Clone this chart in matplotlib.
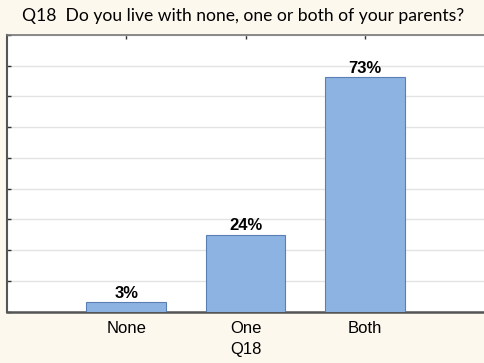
import matplotlib
matplotlib.use("Agg")
import matplotlib.pyplot as plt
from matplotlib.ticker import MultipleLocator

categories = ["None", "One", "Both"]
percentages = [3, 24, 73]
labels = ["3%", "24%", "73%"]
title = "Q18  Do you live with none, one or both of your parents?"
xlabel = "Q18"

bg = "#FDF8EE"
fig = plt.figure(figsize=(4.84, 3.63), dpi=100, facecolor=bg)
ax = fig.add_axes([7/484, 1-311.7/363, 1-7/484, (311.7-35)/363])
ax.set_facecolor("white")

x = list(range(len(categories)))
bars = ax.bar(x, percentages, width=0.67, color="#8DB3E2", edgecolor="#5A7FB5", linewidth=0.8, zorder=3)
for xi, v, lab in zip(x, percentages, labels):
    ax.annotate(lab, (xi, v), xytext=(0, 1.0), textcoords="offset points", ha="center", va="bottom",
                fontsize=12, fontweight="bold", family="Liberation Sans", zorder=4)

ax.set_xlim(-1, 3)
ymax = 86.1
ax.set_ylim(0, ymax)
ax.yaxis.set_major_locator(MultipleLocator(ymax/9))
ax.grid(axis="y", color="#E3E3E3", linewidth=1, zorder=0)
ax.set_yticklabels([])
ax.set_xticks(x)
ax.set_xticklabels(categories, fontsize=12, family="Liberation Sans")
ax.tick_params(axis="x", direction="in", length=3, width=1, color="#333333", pad=7, top=True)
ax.tick_params(axis="y", direction="in", length=3, width=1, color="#333333", left=True, labelleft=False)
ax.set_xlabel(xlabel, fontsize=12, family="Liberation Sans", labelpad=4)

ax.spines["left"].set_color("#555555")
ax.spines["left"].set_linewidth(1.5)
ax.spines["bottom"].set_color("#555555")
ax.spines["bottom"].set_linewidth(1.8)
ax.spines["top"].set_color("#777777")
ax.spines["top"].set_linewidth(1.2)
ax.spines["right"].set_visible(False)

fig.text(243/484, 1-16/363, title, ha="center", va="center", fontsize=12.6, family="Lato")

fig.savefig("out.png", dpi=100, facecolor=bg)
